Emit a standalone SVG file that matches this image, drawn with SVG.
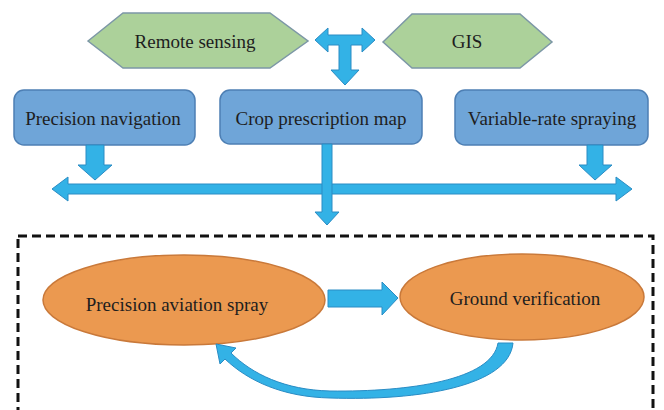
<svg xmlns="http://www.w3.org/2000/svg" width="664" height="410" viewBox="0 0 664 410">
<style>
.hex{fill:#acd19a;stroke:#7c97a6;stroke-width:1.5}
.box{fill:#6fa5d8;stroke:#4d7fb4;stroke-width:1.5}
.ell{fill:#eb9950;stroke:#c9793a;stroke-width:1.5}
.arr{fill:#33b2e6;stroke:#2a8cc4;stroke-width:1}
.t{font-family:"Liberation Serif","Times New Roman",serif;font-size:19px;fill:#1e1e1e;text-anchor:middle}
.dash{fill:none;stroke:#111;stroke-width:3;stroke-dasharray:9 5}
</style>
<rect width="664" height="410" fill="#fff"/>
<g id="remote-sensing">
<polygon class="hex" points="88,41 123,13 270,13 308,41 270,68 123,68"/>
<text class="t" x="195" y="48">Remote sensing</text>
</g>
<g id="gis">
<polygon class="hex" points="383,42 412,14 520,14 552,42 520,68 412,68"/>
<text class="t" x="467" y="48">GIS</text>
</g>
<g id="precision-navigation">
<rect class="box" x="14" y="90" width="181" height="55" rx="10"/>
<text class="t" x="103" y="125">Precision navigation</text>
</g>
<g id="crop-prescription-map">
<rect class="box" x="220" y="90" width="202" height="54" rx="10"/>
<text class="t" x="321" y="125">Crop prescription map</text>
</g>
<g id="variable-rate-spraying">
<rect class="box" x="455" y="90" width="193" height="55" rx="10"/>
<text class="t" x="552" y="125">Variable-rate spraying</text>
</g>
<g id="field-box">
<rect class="dash" x="18" y="236" width="635" height="190"/>
</g>
<g id="precision-aviation-spray">
<ellipse class="ell" cx="184" cy="300" rx="141" ry="45"/>
<text class="t" x="177" y="311">Precision aviation spray</text>
</g>
<g id="ground-verification">
<ellipse class="ell" cx="522" cy="297" rx="122" ry="43"/>
<text class="t" x="525" y="305">Ground verification</text>
</g>
<g id="connectors">
<path class="arr" d="M315,40 L328,28 L328,35 L362,35 L362,28 L375,40 L362,52 L362,45 L351,45 L351,70 L359,70 L345,85 L331,70 L339,70 L339,45 L328,45 L328,52 Z"/>
<path class="arr" d="M86,145 L104,145 L104,165 L112,165 L95,180 L78,165 L86,165 Z"/>
<path class="arr" d="M587,145 L603,145 L603,165 L612,165 L595,180 L579,165 L587,165 Z"/>
<path class="arr" d="M52,189 L68,177 L68,184 L616,184 L616,177 L632,189 L616,201 L616,194 L68,194 L68,201 Z"/>
<path class="arr" d="M322,144 L332,144 L332,212 L339,212 L327,225 L315,212 L322,212 Z"/>
<path class="arr" d="M328,290 L382,290 L382,282 L398,298 L382,315 L382,307 L328,307 Z"/>
<path class="arr" d="M513,343 C509,386 420,401 330,398 C283,397 248,381 225,359 L220,364 L216,344 L236,348 L231,353 C252,374 285,390 330,391 C410,392 492,380 498,343 Z"/>
</g>
</svg>
